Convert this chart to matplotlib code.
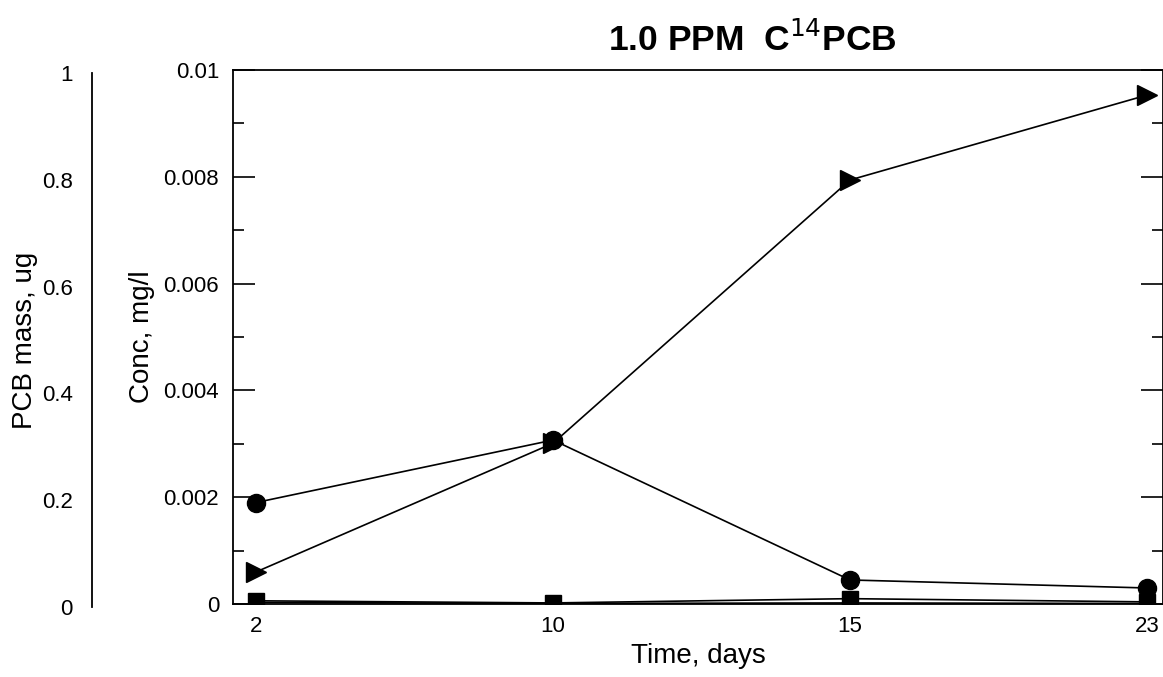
import matplotlib
matplotlib.use("Agg")
import matplotlib.pyplot as plt
import numpy as np
from matplotlib.ticker import MultipleLocator

plt.rcParams['font.family'] = ['Liberation Sans', 'DejaVu Sans']

days = ["2", "10", "15", "23"]
triangle = [0.0006, 0.00301, 0.00794, 0.00953]
circle = [0.0019, 0.00307, 0.00045, 0.0003]
square = [0.00006, 0.00002, 0.0001, 0.00004]
plus = [0.00003, 0.00001, 0.00002, 0.00001]
mass_ticks = [0, 0.2, 0.4, 0.6, 0.8, 1]
conc_ticks = [0, 0.002, 0.004, 0.006, 0.008, 0.01]

W, H = 1163, 677
fig = plt.figure(figsize=(W/100, H/100), dpi=100)

ax = fig.add_axes([233/W, (H-604)/H, (1163-233)/W, (604-70)/H])
x = np.arange(len(days))
ax.plot(x, plus, color='black', lw=1.2, marker='+', ms=12, mew=1.2)
ax.plot(x, square, color='black', lw=1.2, marker='s', ms=12)
ax.plot(x, circle, color='black', lw=1.2, marker='o', ms=13)
ax.plot(x, triangle, color='black', lw=1.2, marker='>', ms=14)

ax.set_xlim(-23/297, 3 + 16/297)
ax.set_ylim(0, 0.01)
ax.set_xticks(x)
ax.set_xticklabels(days)
ax.set_yticks(conc_ticks)
ax.set_yticklabels(["0", "0.002", "0.004", "0.006", "0.008", "0.01"])
ax.yaxis.set_minor_locator(MultipleLocator(0.001))
ax.tick_params(axis='y', which='major', direction='in', length=16, width=1.2,
               labelsize=16, right=True, pad=10)
ax.tick_params(axis='y', which='minor', direction='in', length=8, width=1.2, right=True)
ax.tick_params(axis='x', which='major', direction='in', length=0, labelsize=16, pad=9)
for s in ax.spines.values():
    s.set_linewidth(1.3)
ax.set_xlabel("Time, days", fontsize=20, labelpad=4)
ax.set_ylabel("Conc, mg/l", fontsize=20, labelpad=6)

# separate mass axis
ax2 = fig.add_axes([92/W, (H-607)/H, 0.001, (607-73)/H])
ax2.set_ylim(0, 1)
ax2.set_yticks(mass_ticks)
ax2.set_yticklabels(["0", "0.2", "0.4", "0.6", "0.8", "1"])
ax2.set_xticks([])
for k in ['top', 'right', 'bottom']:
    ax2.spines[k].set_visible(False)
ax2.spines['left'].set_linewidth(1.3)
ax2.patch.set_visible(False)
ax2.tick_params(axis='y', length=0, labelsize=16, pad=14)
ax2.set_ylabel("PCB mass, ug", fontsize=20, labelpad=3)

fig.text(752/W, 1 - 40/H, "1.0 PPM  C$^{14}$PCB", fontsize=25.5, fontweight='bold',
         ha='center', va='center')

fig.savefig("out.png", dpi=100)
